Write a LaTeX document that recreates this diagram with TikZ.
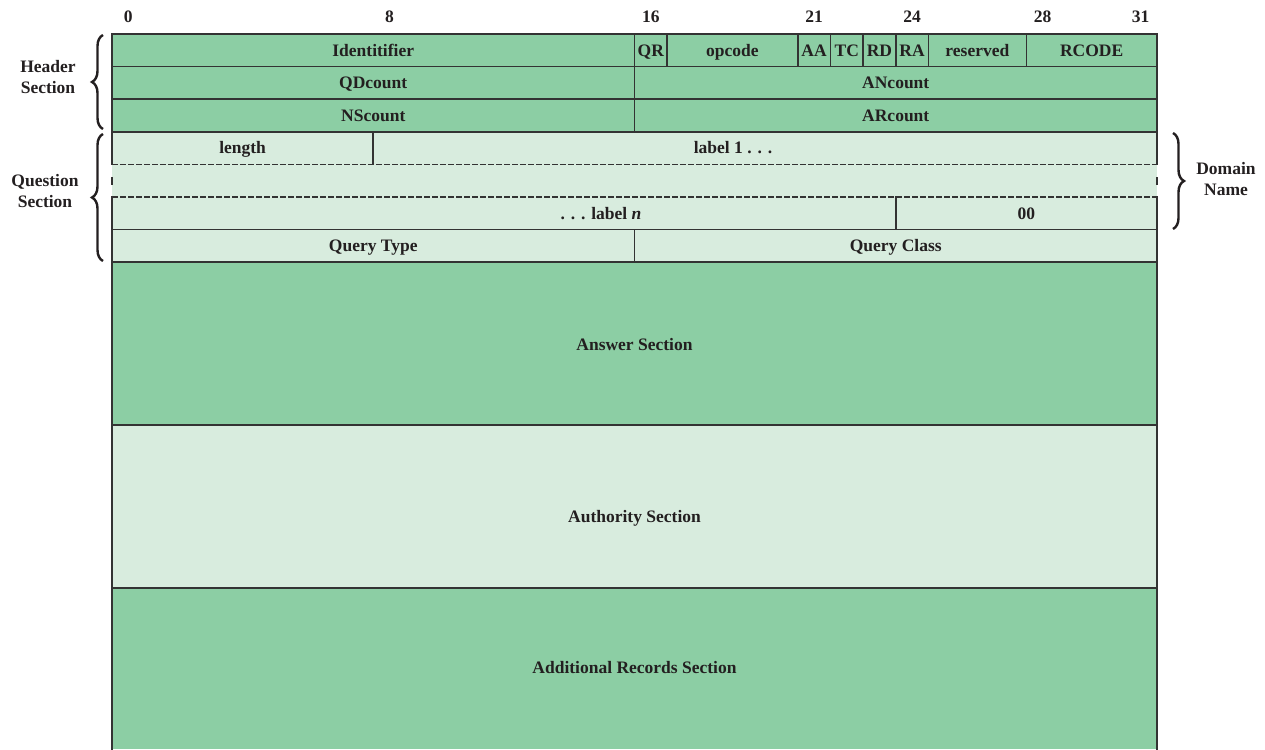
\documentclass[tikz,border=0pt]{standalone}
\usepackage{fontspec}
\setmainfont{Liberation Serif}
\usetikzlibrary{decorations.pathreplacing}
\definecolor{hdrgreen}{HTML}{8CCEA4}
\definecolor{palegreen}{HTML}{D8ECDE}
\definecolor{edge}{HTML}{333333}
\definecolor{ink}{HTML}{231F20}
\begin{document}
\begin{tikzpicture}[x=1pt,y=-1pt,
  declare function={bx(\n)=112+32.656*\n; ry(\n)=34+32.6*\n;},
  txt/.style={font=\fontsize{17.5}{21}\selectfont\bfseries, text=ink, inner sep=0pt},
  lbl/.style={txt, text height=11.6pt, text depth=0pt},
  side/.style={txt, align=center},
  rule/.style={draw=edge, line width=1.7pt, line cap=rect},
  dashrule/.style={draw=edge, line width=1.7pt, dash pattern=on 6pt off 2pt},
  brc/.style={decorate, decoration={brace, amplitude=11pt}, draw=ink, line width=2.4pt}]
\useasboundingbox (0,0) rectangle (1265,749);

% background fills of the sections
\fill[hdrgreen]  ({bx(0)},{ry(0)})  rectangle ({bx(32)},{ry(3)});
\fill[palegreen] ({bx(0)},{ry(3)})  rectangle ({bx(32)},{ry(7)});
\fill[hdrgreen]  ({bx(0)},{ry(7)})  rectangle ({bx(32)},{ry(12)});
\fill[palegreen] ({bx(0)},{ry(12)}) rectangle ({bx(32)},{ry(17)});
\fill[hdrgreen]  ({bx(0)},{ry(17)}) rectangle ({bx(32)},749);

% horizontal rules
\foreach \r in {0,1,2,3,6,7,12,17}
  \draw[rule] ({bx(0)},{ry(\r)}) -- ({bx(32)},{ry(\r)});
\foreach \r in {4,5}
  \draw[dashrule] ({bx(0)},{ry(\r)}) -- ({bx(32)},{ry(\r)});

% outer sides, broken across the variable-length row
\foreach \c in {0,32}{
  \draw[rule] ({bx(\c)},{ry(0)}) -- ({bx(\c)},{ry(4)});
  \draw[rule] ({bx(\c)},{ry(5)}) -- ({bx(\c)},760);
  \draw[draw=edge, line width=1.7pt] ({bx(\c)},{ry(4.4)}) -- ({bx(\c)},{ry(4.62)});
}

% inner field dividers
\draw[rule] ({bx(16)},{ry(0)}) -- ({bx(16)},{ry(3)});
\foreach \c in {17,21,22,23,24,25,28}
  \draw[rule] ({bx(\c)},{ry(0)}) -- ({bx(\c)},{ry(1)});
\draw[rule] ({bx(8)},{ry(3)}) -- ({bx(8)},{ry(4)});
\draw[rule] ({bx(24)},{ry(5)}) -- ({bx(24)},{ry(6)});
\draw[rule] ({bx(16)},{ry(6)}) -- ({bx(16)},{ry(7)});

% bit positions
\foreach \b in {0,8,16,21,24,28,31}
  \node[lbl] (bit\b) at ({bx(\b+0.5)},17) {\b};

% header fields
\node[lbl] (ident)  at ({bx(8)},{ry(0.5)})    {Identitifier};
\node[lbl] (qr)     at ({bx(16.5)},{ry(0.5)}) {QR};
\node[lbl] (opcode) at ({bx(19)},{ry(0.5)})   {opcode};
\node[lbl] (aa)     at ({bx(21.5)},{ry(0.5)}) {AA};
\node[lbl] (tc)     at ({bx(22.5)},{ry(0.5)}) {TC};
\node[lbl] (rd)     at ({bx(23.5)},{ry(0.5)}) {RD};
\node[lbl] (ra)     at ({bx(24.5)},{ry(0.5)}) {RA};
\node[lbl] (resv)   at ({bx(26.5)},{ry(0.5)}) {reserved};
\node[lbl] (rcode)  at ({bx(30)},{ry(0.5)})   {RCODE};
\node[lbl] (qdc) at ({bx(8)},{ry(1.5)})  {QDcount};
\node[lbl] (anc) at ({bx(24)},{ry(1.5)}) {ANcount};
\node[lbl] (nsc) at ({bx(8)},{ry(2.5)})  {NScount};
\node[lbl] (arc) at ({bx(24)},{ry(2.5)}) {ARcount};

% question fields
\node[lbl] (len)    at ({bx(4)},{ry(3.5)}) {length};
\node[lbl] (lab1)   at (733,{ry(3.5)})     {label 1 . . .};
\node[lbl] (labn)   at (601,{ry(5.5)})     {. . . label \textit{n}};
\node[lbl] (zero)   at ({bx(28)},{ry(5.5)}) {00};
\node[lbl] (qtype)  at ({bx(8)},{ry(6.5)})  {Query Type};
\node[lbl] (qclass) at ({bx(24)},{ry(6.5)}) {Query Class};

% record sections
\node[lbl] (answer) at ({bx(16)},345) {Answer Section};
\node[lbl] (auth)   at ({bx(16)},517) {Authority Section};
\node[lbl] (addl)   at ({bx(16)},668) {Additional Records Section};

% braces and their captions
\draw[brc] (103,129) -- (103,35);
\draw[brc] (103,261) -- (103,134);
\draw[brc] (1173,133) -- (1173,229);
\node[side] (hdrsec) at (48,77)   {Header\\Section};
\node[side] (qsec)   at (45,191)  {Question\\Section};
\node[side] (dname)  at (1226,179) {Domain\\Name};
\end{tikzpicture}
\end{document}
